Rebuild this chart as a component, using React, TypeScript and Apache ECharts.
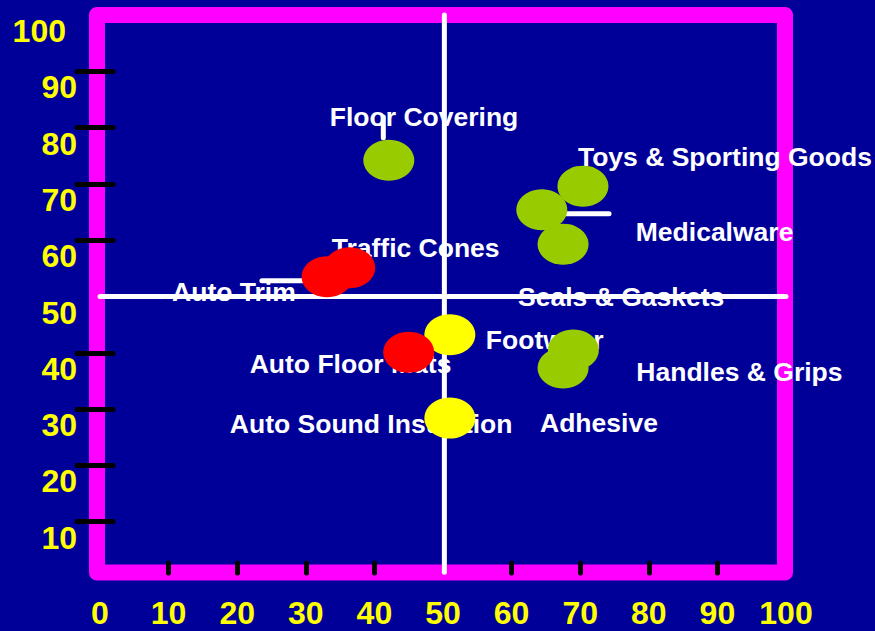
import React, { useEffect, useRef } from "react";
import * as echarts from "echarts";

// ---- data ----
const products = [
  "Floor Covering",
  "Toys & Sporting Goods",
  "Medicalware",
  "Seals & Gaskets",
  "Handles & Grips",
  "Adhesive",
  "Footwear",
  "Auto Sound Insulation",
  "Traffic Cones",
  "Auto Trim",
  "Auto Floor Mats",
];
const xValues = [42.1, 70.4, 64.4, 67.5, 69.0, 67.5, 51.0, 51.0, 36.4, 33.1, 45.0];
const yValues = [74.2, 69.6, 65.4, 59.3, 40.5, 37.3, 43.2, 28.4, 55.1, 53.5, 40.1];
const groups = ["green", "green", "green", "green", "green", "green", "yellow", "yellow", "red", "red", "red"];

const xTickLabels = [0, 10, 20, 30, 40, 50, 60, 70, 80, 90, 100];
const yTickLabels = [10, 20, 30, 40, 50, 60, 70, 80, 90, 100];
const tickMarks = [10, 20, 30, 40, 60, 70, 80, 90];

// quadrant divider lines and label leader lines (data units)
const dividerVertical = [[50.2, 1], [50.2, 100]];
const dividerHorizontal = [[0, 50], [100, 50]];
const leaderFloor = [[41.3, 81.9], [41.3, 78.2]];
const leaderMedical = [[67.9, 64.7], [74.2, 64.7]];
const leaderTrim = [[23.6, 52.8], [29.6, 52.8]];

// ---- styling ----
const groupColors: Record<string, string> = { green: "#99CC00", yellow: "#FFFF00", red: "#FF0000" };
const groupOrder = ["green", "yellow", "red"];
const labelOffsets: Record<string, number[]> = {
  "Floor Covering": [-59, -43],
  "Toys & Sporting Goods": [-5, -29],
  "Medicalware": [94, 22],
  "Seals & Gaskets": [-45, 53],
  "Handles & Grips": [63, 22],
  "Adhesive": [-23, 55],
  "Footwear": [36, 5],
  "Auto Sound Insulation": [-220, 6],
  "Traffic Cones": [-18, -20],
  "Auto Trim": [-155, 15],
  "Auto Floor Mats": [-159, 12],
};
const FONT = "'Liberation Sans', Arial, Helvetica, sans-serif";

export default function App() {
  const ref = useRef<HTMLDivElement>(null);
  useEffect(() => {
    if (!ref.current) return;
    const chart = echarts.init(ref.current, null, { renderer: "svg" });

    const whiteLine = (data: number[][], name: string) => ({
      type: "line",
      name,
      data,
      symbol: "none",
      showSymbol: false,
      clip: false,
      silent: true,
      z: 3,
      lineStyle: { color: "#FFFFFF", width: 5, cap: "round" },
    });

    const labelSeries = {
      type: "scatter",
      name: "labels",
      z: 2,
      silent: true,
      symbolSize: 0,
      itemStyle: { color: "#000099", opacity: 1 },
      data: products.map((p, i) => ({
        name: p,
        value: [xValues[i], yValues[i]],
        label: { offset: labelOffsets[p] },
      })),
      label: {
        show: true,
        position: "inside",
        align: "left",
        verticalAlign: "middle",
        formatter: "{b}",
        color: "#FFFFFF",
        opacity: 1,
        textBorderWidth: 0,
        textBorderColor: "transparent",
        fontSize: 26.5,
        fontWeight: "bold",
        fontFamily: FONT,
      },
    };

    const markerSeries = groupOrder.map((g) => ({
      type: "scatter",
      name: g,
      z: 4,
      symbol: "circle",
      symbolSize: [51, 41],
      itemStyle: { color: groupColors[g], opacity: 1 },
      data: products
        .map((p, i) => ({ name: p, value: [xValues[i], yValues[i]], g: groups[i] }))
        .filter((d) => d.g === g)
        .map((d) => ({ name: d.name, value: d.value })),
    }));

    const axisLabelBase = {
      color: "#FFFF00",
      fontSize: 32,
      fontWeight: "bold",
      fontFamily: FONT,
      lineHeight: 32,
      verticalAlign: "top",
    };

    chart.setOption({
      animation: false,
      backgroundColor: "transparent",
      grid: { left: 100, right: 89, top: 15, bottom: 53 },
      graphic: [
        {
          type: "rect",
          z: 1,
          silent: true,
          shape: { x: 97, y: 15, width: 688, height: 557.5 },
          style: { fill: "none", stroke: "#FF00FF", lineWidth: 16, lineJoin: "round" },
        },
      ],
      xAxis: {
        type: "value",
        min: 0,
        max: 100,
        interval: 10,
        offset: -5,
        z: 5,
        axisLine: { show: false },
        splitLine: { show: false },
        axisTick: {
          show: true,
          inside: true,
          length: 10,
          customValues: tickMarks,
          lineStyle: { color: "#000000", width: 5, cap: "round" },
        },
        axisLabel: { ...axisLabelBase, margin: 24, customValues: xTickLabels },
      },
      yAxis: {
        type: "value",
        min: 0,
        max: 100,
        interval: 10,
        offset: -13,
        z: 5,
        axisLine: { show: false },
        splitLine: { show: false },
        axisTick: {
          show: true,
          inside: false,
          length: 36,
          customValues: tickMarks,
          lineStyle: { color: "#000000", width: 5, cap: "round" },
        },
        axisLabel: {
          ...axisLabelBase,
          margin: 36,
          customValues: yTickLabels,
          formatter: (v: number) => (v === 100 ? `{s|${v}}` : `${v}`),
          rich: {
            s: {
              color: "#FFFF00",
              fontSize: 32,
              fontWeight: "bold",
              fontFamily: FONT,
              lineHeight: 32,
              padding: [0, 11, 0, 0],
            },
          },
        },
      },
      series: [
        labelSeries,
        whiteLine(dividerVertical, "dividerV"),
        whiteLine(dividerHorizontal, "dividerH"),
        whiteLine(leaderFloor, "leaderFloor"),
        whiteLine(leaderMedical, "leaderMedical"),
        whiteLine(leaderTrim, "leaderTrim"),
        ...markerSeries,
      ],
    });
    return () => chart.dispose();
  }, []);

  return (
    <div
      ref={ref}
      style={{ position: "fixed", left: 0, top: 0, width: 875, height: 631, background: "#000099" }}
    />
  );
}
